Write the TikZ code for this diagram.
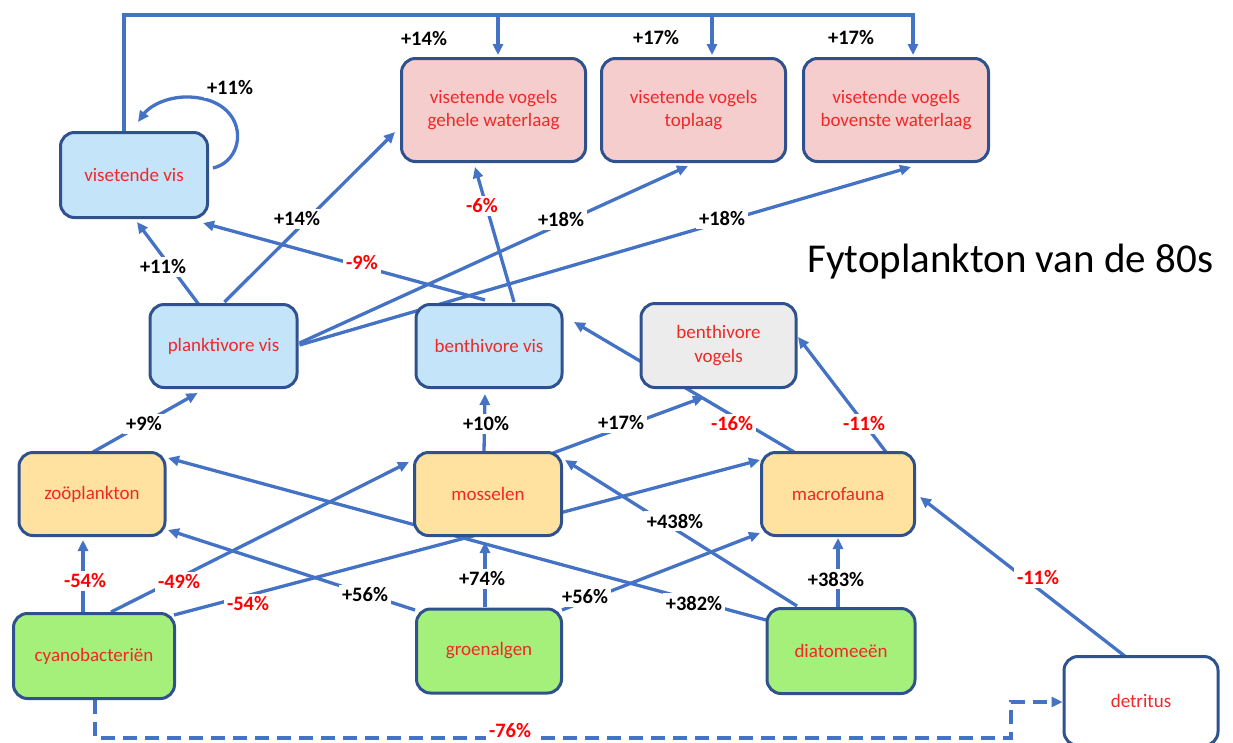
\documentclass[tikz,border=0pt]{standalone}
\usepackage{fontspec}
\setmainfont{Carlito}
\usetikzlibrary{arrows.meta}

\definecolor{linkblue}{HTML}{4472C4}
\definecolor{boxline}{HTML}{2F528F}
\definecolor{fishblue}{HTML}{C4E4FA}
\definecolor{birdpink}{HTML}{F6CDCD}
\definecolor{benthgold}{HTML}{FFE29F}
\definecolor{algaegreen}{HTML}{A5F07B}
\definecolor{birdgrey}{HTML}{ECECEC}
\definecolor{namered}{HTML}{F02828}
\definecolor{lossred}{HTML}{FF0000}

\pgfdeclarelayer{links}
\pgfsetlayers{links,main}

\tikzset{
  box/.style={draw=boxline, line width=3pt, rounded corners=14pt, align=center,
    text=namered, font=\fontsize{19}{23.5}\selectfont, inner sep=0pt},
  fishbox/.style={box, fill=fishblue},
  pinkbox/.style={box, fill=birdpink},
  goldbox/.style={box, fill=benthgold},
  greenbox/.style={box, fill=algaegreen},
  greybox/.style={box, fill=birdgrey},
  whitebox/.style={box, fill=white},
  sz/.style 2 args={minimum width=#1pt, minimum height=#2pt},
  link/.style={draw=linkblue, line width=3.3pt, -{Triangle[length=11pt,width=10pt]}},
  lab/.style={fill=white, inner sep=3pt, font=\fontsize{20.5}{22}\selectfont\bfseries},
  gain/.style={lab, text=black},
  loss/.style={lab, text=lossred},
}

\begin{document}
\begin{tikzpicture}[x=1pt, y=-1pt]
\useasboundingbox (0,0) rectangle (1233,742);

% ---- compartments ----
\node[fishbox, sz={147}{85}]  (vis)   at (134,175)   {visetende vis};
\node[pinkbox, sz={184}{103}] (geh)   at (493.5,110) {visetende vogels\\gehele waterlaag};
\node[pinkbox, sz={184}{103}] (topl)  at (693.5,110) {visetende vogels\\toplaag};
\node[pinkbox, sz={185}{103}] (bov)   at (896,110)   {visetende vogels\\bovenste waterlaag};
\node[fishbox, sz={147}{83}]  (plank) at (223.5,346) {planktivore vis};
\node[fishbox, sz={146}{83}]  (bvis)  at (489,346)   {benthivore vis};
\node[greybox, sz={155}{84}]  (bvog)  at (718.5,345.5) {benthivore\\vogels};
\node[goldbox, sz={146}{83}]  (zoo)   at (92,494)    {zoöplankton};
\node[goldbox, sz={147}{83}]  (mos)   at (488,494)   {mosselen};
\node[goldbox, sz={153}{83}]  (mac)   at (838,494)   {macrofauna};
\node[greenbox, sz={161}{85}] (cyano) at (94,656)    {cyanobacteriën};
\node[greenbox, sz={145}{84}] (groen) at (489,651)   {groenalgen};
\node[greenbox, sz={148}{85}] (diat)  at (841,651)   {diatomeeën};
\node[whitebox, sz={154}{89}] (detr)  at (1141,701)  {detritus};

\node[anchor=base west, inner sep=0pt, font=\fontsize{41}{45}\selectfont] (title)
  at (807,272) {Fytoplankton van de 80s};

% ---- feeding links ----
\coordinate (bus) at (0,15);
\coordinate (gehin) at ([shift={(4.5,-55)}]geh.center);
\coordinate (topin) at ([shift={(18.5,-55)}]topl.center);
\coordinate (bovin) at ([shift={(17,-55)}]bov.center);
\coordinate (dashlow) at (0,738);
\coordinate (dashturn) at (1011,0);

\begin{pgfonlayer}{links}
  \draw[link] ([xshift=-10pt]vis.north) |- (bus -| bovin) -- (bovin);
  \draw[link] (bus -| gehin) -- (gehin);
  \draw[link] (bus -| topin) -- (topin);
  \draw[link] ([shift={(79,-7)}]vis.center) .. controls (248,160) and (250,100) .. (190,97)
     .. controls (165,96) and (148,108) .. ([shift={(4,-53)}]vis.center);

  \draw[link] ([shift={(-25,-42)}]plank.center) -- ([shift={(3,47)}]vis.center);
  \draw[link] ([shift={(1,-44)}]plank.center) -- ([shift={(-98.5,22)}]geh.center);
  \draw[link] ([shift={(-4,-46)}]bvis.center) -- ([shift={(69,48)}]vis.center);
  \draw[link] ([shift={(25,-44)}]bvis.center) -- ([shift={(-18.5,57)}]geh.center);
  \draw[link] ([shift={(76,-3)}]plank.center) -- ([shift={(-5.5,56)}]topl.center);
  \draw[link] ([shift={(76,-1)}]plank.center) -- ([shift={(15,57)}]bov.center);

  \draw[link] ([shift={(1,-42)}]zoo.center) -- ([shift={(-26,47)}]plank.center);
  \draw[link] ([shift={(-4,-42)}]mos.center) -- ([shift={(-4,48)}]bvis.center);
  \draw[link] ([shift={(65,-41)}]mos.center) -- ([shift={(-14.5,51.5)}]bvog.center);
  \draw[link] ([shift={(-44,-42)}]mac.center) -- ([shift={(85,-24)}]bvis.center);
  \draw[link] ([shift={(48,-42)}]mac.center) -- ([shift={(79.5,-8.5)}]bvog.center);

  \draw[link] ([shift={(-11,-44)}]cyano.center) -- ([shift={(-9,46)}]zoo.center);
  \draw[link] ([shift={(17,-44)}]cyano.center) -- ([shift={(-79,-32)}]mos.center);
  \draw[link] ([shift={(80,-41)}]cyano.center) -- ([shift={(-78,-34)}]mac.center);
  \draw[link] ([shift={(-74,-41)}]groen.center) -- ([shift={(76,36)}]zoo.center);
  \draw[link] ([shift={(-4,-44)}]groen.center) -- ([shift={(-3,48)}]mos.center);
  \draw[link] ([shift={(73,-41)}]groen.center) -- ([shift={(-78,39)}]mac.center);
  \draw[link] ([shift={(-75,-31)}]diat.center) -- ([shift={(76,-36)}]zoo.center);
  \draw[link] ([shift={(-44,-45)}]diat.center) -- ([shift={(77,-34)}]mos.center);
  \draw[link] ([shift={(-3,-44)}]diat.center) -- ([shift={(0,44)}]mac.center);
  \draw[link] ([shift={(-15,-44)}]detr.center) -- ([shift={(82,3)}]mac.center);

  \draw[link, dash pattern=on 14pt off 8pt] ([xshift=1pt]cyano.south) |- (dashlow -| dashturn) |- ([yshift=-1pt]detr.west);
\end{pgfonlayer}

% ---- changes per link ----
\node[gain] (l1)  at (230,88)  {+11\%};
\node[gain] (l2)  at (424,39)  {+14\%};
\node[gain] (l3)  at (656,38)  {+17\%};
\node[gain] (l4)  at (851,38)  {+17\%};
\node[gain] (l5)  at (163,267) {+11\%};
\node[gain] (l6)  at (297,219) {+14\%};
\node[loss] (l7)  at (362,263) {-9\%};
\node[loss] (l8)  at (482,206) {-6\%};
\node[gain] (l9)  at (561,220) {+18\%};
\node[gain] (l10) at (722,219) {+18\%};
\node[gain] (l11) at (144,424) {+9\%};
\node[gain] (l12) at (486,424) {+10\%};
\node[gain] (l13) at (621,423) {+17\%};
\node[loss] (l14) at (732,424) {-16\%};
\node[loss] (l15) at (864,424) {-11\%};
\node[loss] (l16) at (85,581)  {-54\%};
\node[loss] (l17) at (179,582) {-49\%};
\node[loss] (l18) at (248,604) {-54\%};
\node[gain] (l19) at (365,595) {+56\%};
\node[gain] (l20) at (482,579) {+74\%};
\node[gain] (l21) at (585,597) {+56\%};
\node[gain] (l22) at (694,603) {+382\%};
\node[gain] (l23) at (675,521) {+438\%};
\node[gain] (l24) at (836,579) {+383\%};
\node[loss] (l25) at (1038,578) {-11\%};
\node[loss] (l26) at (510,731) {-76\%};
\end{tikzpicture}
\end{document}
